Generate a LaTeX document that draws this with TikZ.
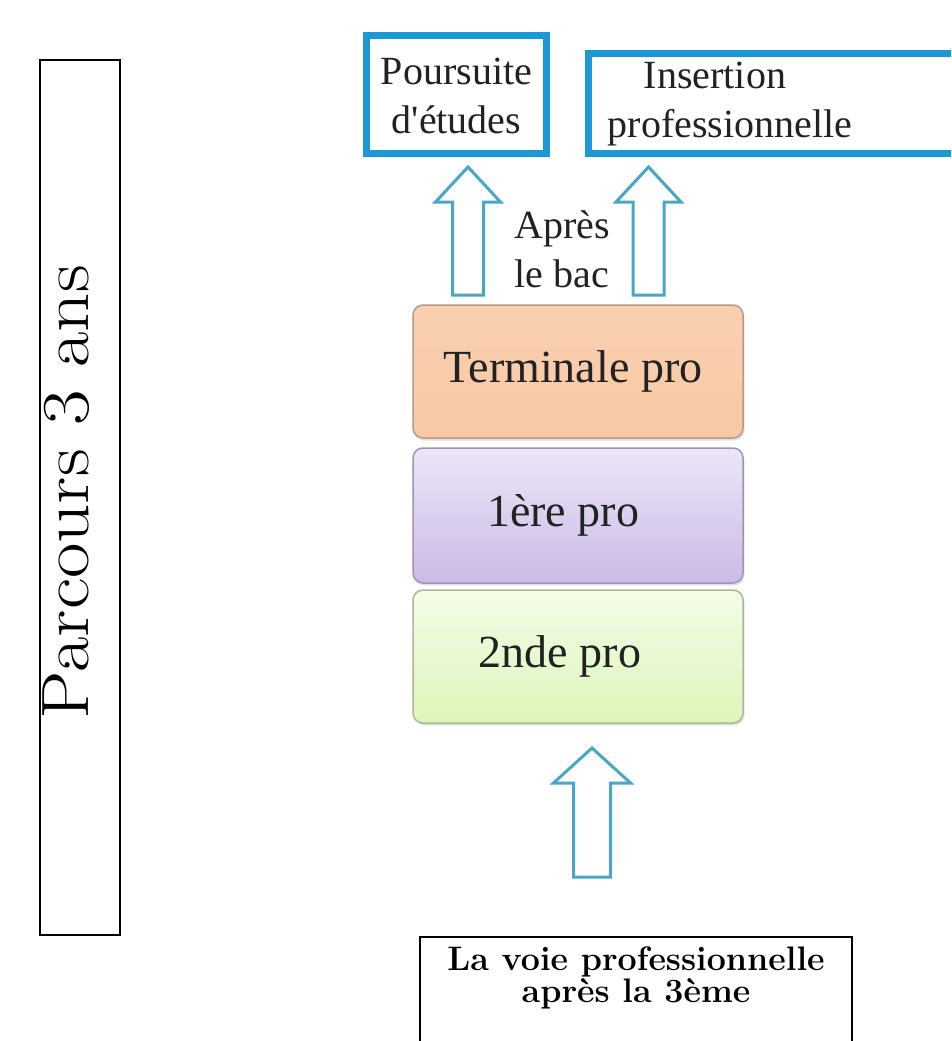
\documentclass[tikz,border=0pt]{standalone}
\usepackage{fontspec}
\newfontfamily\geo{Liberation Serif}
\usetikzlibrary{shadows}
\definecolor{boxblue}{HTML}{1B98D6}
\definecolor{arrblue}{HTML}{4AA6C6}
\definecolor{geotext}{HTML}{222222}
\newcommand\blockarrow[7]{% name, cx, tip, wing, bottom, half shaft, half head
  \draw[arrowline] (#2,#3) coordinate (#1) -- (#2+#7,#4) -- (#2+#6,#4) -- (#2+#6,#5) -- (#2-#6,#5) -- (#2-#6,#4) -- (#2-#7,#4) -- cycle;}
\begin{document}
\begin{tikzpicture}[x=1pt,y=-1pt,
  arrowline/.style={draw=arrblue,line width=3pt,line join=miter,fill=white},
  outbox/.style={draw=boxblue,line width=7pt,fill=white},
  geotxt/.style={font=\geo\fontsize{40}{49}\selectfont,text=geotext,align=center,inner sep=0pt},
  stacktxt/.style={font=\geo\fontsize{46}{52}\selectfont,text=geotext,inner sep=0pt},
  stackbox/.style={rounded corners=10pt,line width=1.5pt,shading=axis,inner sep=0pt,minimum width=330pt,
     drop shadow={opacity=0.22,shadow xshift=1.5pt,shadow yshift=-2.5pt}},
  thinbox/.style={draw=black,line width=1.3pt}]
\useasboundingbox (0,0) rectangle (951,1041);
\clip (0,0) rectangle (951,1041);
\fill[white] (0,0) rectangle (951,1041);
% left box
\draw[thinbox] (40,60) rectangle (120,935);
\node[rotate=90,anchor=base,inner sep=0pt,font=\fontsize{77}{88}\selectfont] (parcours) at (88,492) {\scalebox{1}[0.87]{Parcours 3 ans}};
% top outcome boxes
\draw[outbox] (366.5,35.5) rectangle (546.5,153.5);
\node[geotxt] (poursuite) at (456.5,96) {Poursuite\\d'\'etudes};
\draw[outbox] (960,53.5) -- (588.5,53.5) -- (588.5,153.5) -- (960,153.5);
\node[geotxt] (insertion) at (730,104) {Insertion\hspace*{30pt}\\professionnelle};
% arrows after bac
\blockarrow{a1}{468}{167}{202}{295}{15.5}{32.5}
\blockarrow{a2}{648.5}{167}{202}{295}{15.5}{32.5}
\node[geotxt] (apres) at (562,249) {Apr\`es\\le bac};
% stack
\node[stackbox,minimum height=133pt,draw={rgb,255:red,180;green,155;blue,138},top color={rgb,255:red,250;green,208;blue,176},bottom color={rgb,255:red,248;green,200;blue,165}] (term) at (578,371.5) {};
\node[stacktxt] at ([xshift=-5pt]term.center) {Terminale pro};
\node[stackbox,minimum height=135pt,draw={rgb,255:red,160;green,148;blue,178},top color={rgb,255:red,236;green,230;blue,247},bottom color={rgb,255:red,204;green,186;blue,231}] (prem) at (578,515.5) {};
\node[stacktxt] at ([xshift=-15pt]prem.center) {1\`ere pro};
\node[stackbox,minimum height=133pt,draw={rgb,255:red,170;green,184;blue,152},top color={rgb,255:red,243;green,252;blue,232},bottom color={rgb,255:red,221;green,246;blue,185}] (sec) at (578,656.5) {};
\node[stacktxt] at ([xshift=-18pt]sec.center) {2nde pro};
% bottom arrow
\blockarrow{a3}{592}{748}{783}{877}{18.5}{38.5}
% bottom box
\draw[thinbox] (420,1060) -- (420,937) -- (852,937) -- (852,1060);
\node[align=center,inner sep=0pt,font=\bfseries\fontsize{34}{32}\selectfont] (voie) at (636,978) {La voie professionnelle\\apr\`es la 3\`eme};
\end{tikzpicture}
\end{document}
